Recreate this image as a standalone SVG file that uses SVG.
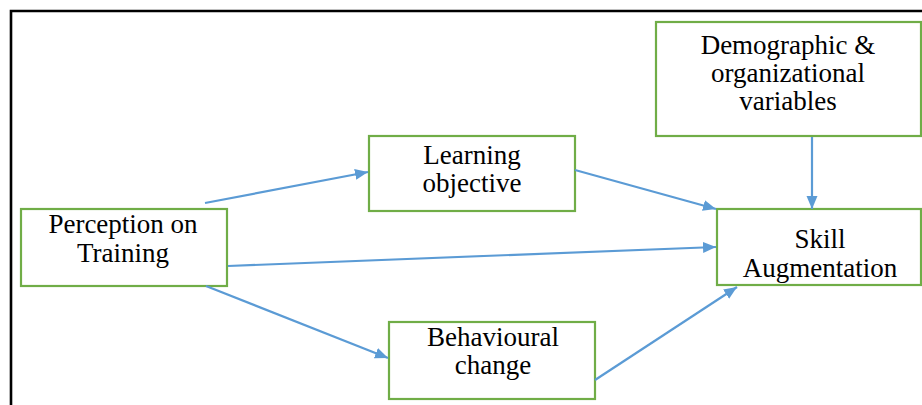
<svg xmlns="http://www.w3.org/2000/svg" width="922" height="405" viewBox="0 0 922 405">
<defs>
<style>
.box{fill:#fff;stroke:#70AD47;stroke-width:2.2}
.lbl{font-size:27px;fill:#000;text-anchor:middle}
.con{stroke:#5B9BD5;stroke-width:2.2;fill:none;marker-end:url(#ah)}
</style>
<marker id="ah" markerUnits="userSpaceOnUse" markerWidth="14" markerHeight="12" refX="13" refY="5.5" orient="auto">
<path d="M0,0 L13,5.5 L0,11 z" fill="#5B9BD5"/>
</marker>
</defs>
<rect width="922" height="405" fill="#fff"/>
<path d="M11,405 L11,11 L922,11" fill="none" stroke="#000" stroke-width="2.6"/>
<g font-family="'Liberation Serif', 'Times New Roman', 'DejaVu Serif', serif">
<g id="demographic">
<rect class="box" x="656" y="22" width="265" height="114"/>
<text class="lbl" x="788" y="54">Demographic &amp;</text>
<text class="lbl" x="788" y="82">organizational</text>
<text class="lbl" x="788" y="110">variables</text>
</g>
<g id="learning">
<rect class="box" x="369" y="136" width="206" height="75"/>
<text class="lbl" x="472" y="164">Learning</text>
<text class="lbl" x="472" y="192">objective</text>
</g>
<g id="perception">
<rect class="box" x="21" y="209" width="206" height="77"/>
<text class="lbl" x="123" y="233">Perception on</text>
<text class="lbl" x="123" y="262">Training</text>
</g>
<g id="skill">
<rect class="box" x="717" y="209" width="204" height="76"/>
<text class="lbl" x="820" y="248">Skill</text>
<text class="lbl" x="820" y="277">Augmentation</text>
</g>
<g id="behavioural">
<rect class="box" x="389" y="322" width="206" height="77"/>
<text class="lbl" x="493" y="346">Behavioural</text>
<text class="lbl" x="493" y="374">change</text>
</g>
</g>
<g id="connectors">
<line class="con" x1="205" y1="203" x2="368" y2="172"/>
<line class="con" x1="575" y1="170" x2="716" y2="209"/>
<line class="con" x1="228" y1="266" x2="716" y2="247"/>
<line class="con" x1="206" y1="286" x2="388" y2="358"/>
<line class="con" x1="595" y1="380" x2="737" y2="287"/>
<line class="con" x1="812" y1="137" x2="812" y2="209"/>
</g>
</svg>
